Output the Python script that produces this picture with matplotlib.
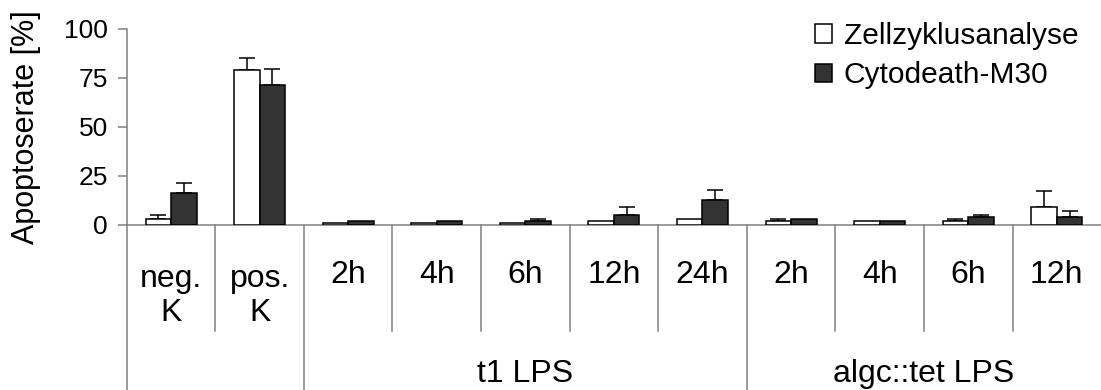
import numpy as np
import matplotlib
matplotlib.use("Agg")
import matplotlib.pyplot as plt

plt.rcParams['font.family'] = ['Liberation Sans', 'DejaVu Sans']

# ── Apoptosis rates per condition (%) ──
categories = ['neg.\nK', 'pos.\nK', '2h', '4h', '6h', '12h', '24h',
              '2h', '4h', '6h', '12h']
zell     = [3.0, 79.0, 1.0, 1.0, 1.0, 2.0, 3.0, 2.0, 2.0, 2.0, 9.2]
zell_err = [2.0, 6.0, 0.0, 0.0, 0.0, 0.0, 0.0, 1.0, 0.0, 1.0, 8.0]
cyto     = [16.5, 71.5, 2.0, 2.0, 2.0, 5.0, 13.0, 2.9, 2.0, 4.1, 4.1]
cyto_err = [5.0, 8.0, 0.0, 0.0, 1.0, 4.0, 5.0, 0.0, 0.0, 1.2, 3.0]
groups   = [('t1 LPS', 2, 7), ('algc::tet LPS', 7, 11)]
group_lines = [0, 2, 7]
short_lines = [1, 3, 4, 5, 6, 8, 9, 10]

GRAY = '#808080'
DARK = '#333333'
BW = 0.288
PX = 1.957          # pixels per data unit on the y axis

x = np.arange(len(categories)) + 0.5

fig = plt.figure(figsize=(11.01, 3.9), dpi=100)
ax = fig.add_axes([0.1151, 0.4231, 0.885, 0.5026])

ax.bar(x - BW/2, zell, BW, color='white', edgecolor='black', lw=1.1,
       label='Zellzyklusanalyse', zorder=3)
ax.bar(x + BW/2, cyto, BW, color=DARK, edgecolor='black', lw=1.1,
       label='Cytodeath-M30', zorder=3)

# upper error bars only
for off, vals, errs in [(-BW/2, zell, zell_err), (BW/2, cyto, cyto_err)]:
    v = np.array(vals); e = np.array(errs)
    m = e > 0
    ax.errorbar(x[m] + off, v[m], yerr=[np.zeros(m.sum()), e[m]], fmt='none',
                ecolor='black', elinewidth=1.1, capsize=5.5, capthick=1.1,
                zorder=2)

ax.set_xlim(0, len(categories))
ax.set_ylim(0, 100)
ax.set_yticks([0, 25, 50, 75, 100])
ax.set_xticks([])
ax.tick_params(axis='y', labelsize=19, length=6.5, width=1.1,
               color=GRAY, pad=7)
for s in ['top', 'right']:
    ax.spines[s].set_visible(False)
for s in ['left', 'bottom']:
    ax.spines[s].set_color(GRAY)
    ax.spines[s].set_linewidth(1.1)

ax.set_ylabel('Apoptoserate [%]', fontsize=22)
ax.yaxis.set_label_coords(-0.0879, 0.5)

# category separators and labels below the baseline
for b in short_lines:
    ax.plot([b, b], [0, -106 / PX], color=GRAY, lw=1.1, clip_on=False)
for b in group_lines:
    ax.plot([b, b], [0, -90], color=GRAY, lw=1.1, clip_on=False)
for xi, lab in zip(x, categories):
    n_extra = lab.count('\n')
    ax.text(xi, -(58 + 38 * n_extra) / PX, lab, ha='center', va='baseline',
            fontsize=23, linespacing=1.2)
for name, a, b in groups:
    ax.text((a + b) / 2, -157 / PX, name, ha='center', va='baseline',
            fontsize=23)

ax.legend(loc='upper left', bbox_to_anchor=(815/1101, 1 - 22/390),
          bbox_transform=fig.transFigure, frameon=False, fontsize=21.5,
          handlelength=0.58, handleheight=0.58, handletextpad=0.38,
          labelspacing=0.38, borderaxespad=0, borderpad=0)

fig.savefig('out.png', dpi=100)
